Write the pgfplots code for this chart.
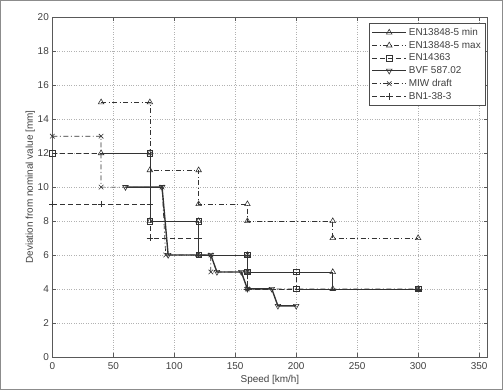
\documentclass[border=0pt]{standalone}
\usepackage{pgfplots}
\pgfplotsset{compat=1.18}
\usepackage{fontspec}
\setmainfont{Liberation Sans}
\begin{document}
\begin{tikzpicture}
\begin{axis}[
  at={(0,0)}, anchor=south west,
  scale only axis, width=436bp, height=340bp,
  xmin=0, xmax=357, ymin=0, ymax=20,
  xtick={0,50,...,350}, ytick={0,2,...,20},
  grid=major, grid style={dotted, gray!60, line width=0.45pt},
  tick align=inside, major tick length=4bp,
  ticklabel style={font=\fontsize{10}{12}\selectfont, text=black!75},
  xticklabel style={yshift=-2bp},
  /pgf/number format/assume math mode=true,
  xlabel={Speed [km/h]}, ylabel={Deviation from nominal value [mm]},
  label style={font=\fontsize{10}{12}\selectfont, text=black!75},
  xlabel style={yshift=1bp},
  ylabel style={yshift=-4bp},
  axis line style={black!65, line width=0.6pt},
  every tick/.style={black!65},
  legend style={at={(0.995,0.982)}, anchor=north east, draw=black!70,
    font=\fontsize{10}{12}\selectfont, text=black!75, cells={anchor=west},
    row sep=0.3bp, inner sep=2.5bp},
  legend image code/.code={\draw[mark repeat=2, mark phase=2] plot coordinates {(0bp,0bp) (17bp,0bp) (34bp,0bp)};},
  every axis plot/.append style={black!80, line width=0.7pt, mark size=3.2bp, mark options={solid, line width=0.6pt}},
]
% EN13848-5 min
\addplot[solid, mark=triangle] coordinates {(40,12) (80,12) (80,8) (120,8) (120,6) (160,6) (160,5) (230,5) (230,4) (300,4)};
\addlegendentry{EN13848-5 min}
% EN13848-5 max
\addplot[dash pattern=on 5bp off 2.5bp on 1bp off 2.5bp, mark=triangle] coordinates {(40,15) (80,15) (80,11) (120,11) (120,9) (160,9) (160,8) (230,8) (230,7) (300,7)};
\addlegendentry{EN13848-5 max}
% EN14363
\addplot[dash pattern=on 5bp off 3bp, mark=square, mark size=2.8bp] coordinates {(0,12) (80,12) (80,8) (120,8) (120,6) (160,6) (160,5) (200,5) (200,4) (300,4)};
\addlegendentry{EN14363}
% BVF 587.02
\addplot[solid, line width=1.4pt, mark=triangle, mark options={rotate=180, line width=0.6pt}] coordinates {(60,10) (90,10) (95,6) (130,6) (135,5) (155,5) (160,4) (180,4) (185,3) (200,3)};
\addlegendentry{BVF 587.02}
% MIW draft
\addplot[dash pattern=on 5bp off 2.5bp on 1bp off 2.5bp, mark=x] coordinates {(0,13) (40,13) (40,10) (90,10) (93,6) (130,6) (130,5) (160,5) (160,4) (300,4)};
\addlegendentry{MIW draft}
% BN1-38-3
\addplot[dash pattern=on 5bp off 3bp, mark=+] coordinates {(0,9) (40,9) (80,9) (80,7) (120,7) (120,6) (160,6) (160,4) (300,4)};
\addlegendentry{BN1-38-3}
\end{axis}
\draw[black!45, line width=0.8pt] (-52bp,-33bp) rectangle (451bp,357bp);
\end{tikzpicture}
\end{document}
